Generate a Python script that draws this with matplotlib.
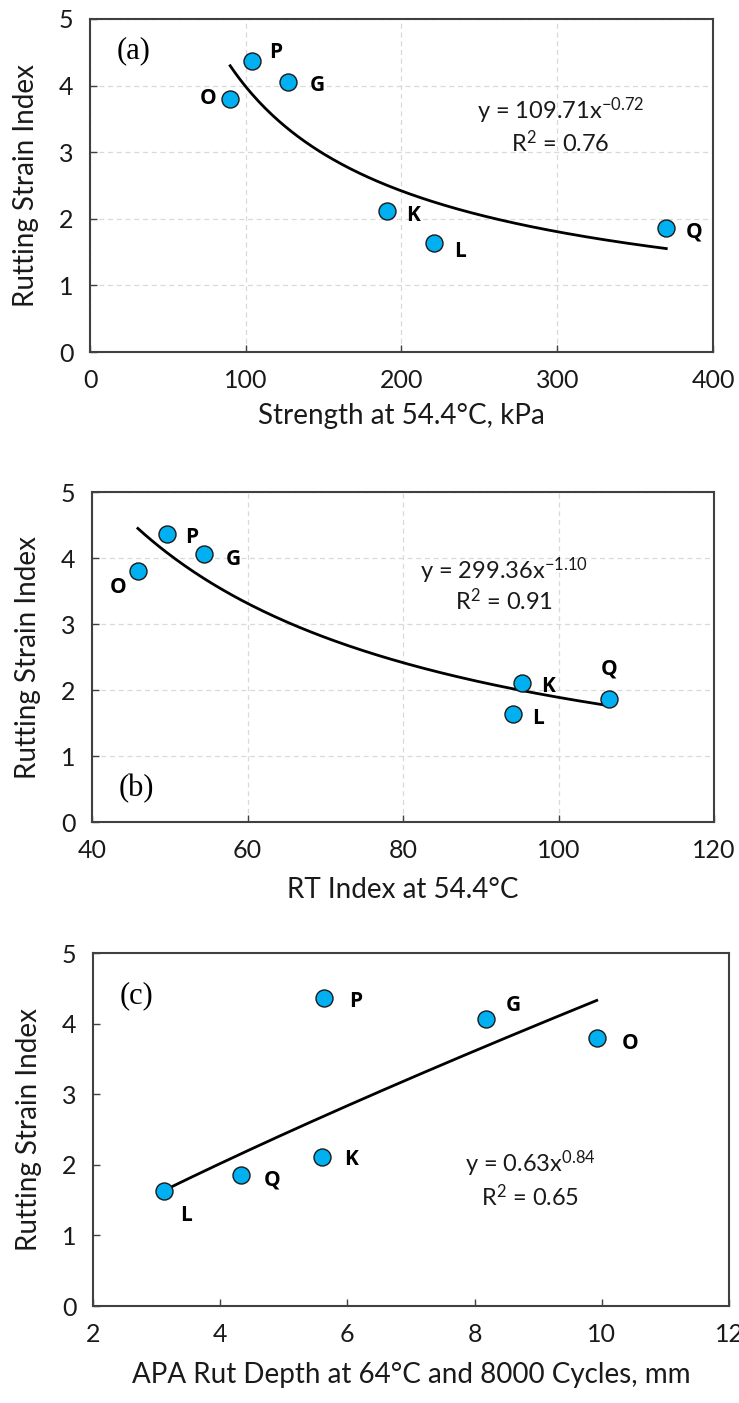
import matplotlib
matplotlib.use("Agg")
import matplotlib.pyplot as plt
import numpy as np

plt.rcParams['font.family'] = ['Lato', 'DejaVu Sans']
plt.rcParams['mathtext.fontset'] = 'custom'
plt.rcParams['mathtext.rm'] = 'Lato'
plt.rcParams['mathtext.it'] = 'Lato'
plt.rcParams['axes.unicode_minus'] = False

mixes = ["O", "P", "G", "K", "L", "Q"]
rsi = [3.80, 4.37, 4.06, 2.11, 1.63, 1.86]

strength = [90, 104, 127, 190.5, 221, 370]
rt_index = [45.9, 49.6, 54.4, 95.3, 94.1, 106.5]
apa_rut = [9.92, 5.64, 8.18, 5.60, 3.11, 4.32]

fit_a = (109.71, -0.72)
fit_b = (299.36, -1.10)
fit_c = (0.63, 0.84)

eq_a = ["y = 109.71x$^{\\mathdefault{-0.72}}$", "R$^{\\mathdefault{2}}$ = 0.76"]
eq_b = ["y = 299.36x$^{\\mathdefault{-1.10}}$", "R$^{\\mathdefault{2}}$ = 0.91"]
eq_c = ["y = 0.63x$^{\\mathdefault{0.84}}$", "R$^{\\mathdefault{2}}$ = 0.65"]

fig = plt.figure(figsize=(7.39, 14.03), dpi=100)

panels = [
    dict(rect=[0.1218, 0.7491, 0.8430, 0.2374], x=strength, fit=fit_a, eq=eq_a,
         xlim=(0, 400), xticks=[0, 100, 200, 300, 400], grid=True,
         xlabel="Strength at 54.4°C, kPa", xlpad=8, tag="(a)", tagpos=(0.042, 0.905),
         eqpos=(302, 3.62, 3.14),
         offs={"O": (-10, 0, 'right', 'center'), "P": (12, 6, 'left', 'center'),
               "G": (16, -3, 'left', 'center'), "K": (14, -3, 'left', 'center'),
               "L": (14, -6, 'left', 'center'), "Q": (14, -3, 'left', 'center')}),
    dict(rect=[0.1245, 0.4141, 0.8417, 0.2352], x=rt_index, fit=fit_b, eq=eq_b,
         xlim=(40, 120), xticks=[40, 60, 80, 100, 120], grid=True,
         xlabel="RT Index at 54.4°C", xlpad=11, tag="(b)", tagpos=(0.042, 0.10),
         eqpos=(93, 3.80, 3.36),
         offs={"O": (-8, -12, 'right', 'center'), "P": (13, -3, 'left', 'center'),
               "G": (16, -4, 'left', 'center'), "K": (14, -3, 'left', 'center'),
               "L": (14, -3, 'left', 'center'), "Q": (0, 22, 'center', 'center')}),
    dict(rect=[0.1258, 0.0691, 0.8607, 0.2516], x=apa_rut, fit=fit_c, eq=eq_c,
         xlim=(2, 12), xticks=[2, 4, 6, 8, 10, 12], grid=False,
         xlabel="APA Rut Depth at 64°C and 8000 Cycles, mm", xlpad=12, tag="(c)",
         tagpos=(0.042, 0.88),
         eqpos=(8.87, 2.01, 1.55),
         offs={"O": (18, -4, 'left', 'center'), "P": (18, -3, 'left', 'center'),
               "G": (14, 10, 'left', 'center'), "K": (16, -2, 'left', 'center'),
               "Q": (17, -4, 'left', 'center'), "L": (12, -18, 'left', 'center')}),
]

for p in panels:
    ax = fig.add_axes(p["rect"])
    x = np.array(p["x"], dtype=float)
    y = np.array(rsi, dtype=float)
    a, b = p["fit"]
    xs = np.linspace(x.min(), x.max(), 200)
    ax.plot(xs, a * xs ** b, color='black', lw=2.0, zorder=2)
    ax.scatter(x, y, s=150, color='#00B0F0', edgecolor='#1a1a1a', linewidth=1.0, zorder=3)
    for name, xi, yi in zip(mixes, x, y):
        dx, dy, ha, va = p["offs"][name]
        ax.annotate(name, (xi, yi), xytext=(dx, dy), textcoords='offset points',
                    ha=ha, va=va, fontsize=15, fontweight='bold', color='black',
                    family=['Open Sans', 'DejaVu Sans'])
    ax.set_xlim(*p["xlim"])
    ax.set_ylim(0, 5)
    ax.set_xticks(p["xticks"])
    ax.set_yticks([0, 1, 2, 3, 4, 5])
    ax.tick_params(direction='in', length=5, width=1, labelsize=18, pad=12, colors='#404040',
                   labelcolor='#1a1a1a')
    if p["grid"]:
        ax.grid(True, color='#d9d9d9', linestyle=(0, (4, 3)), linewidth=0.9)
        ax.set_axisbelow(True)
    for s in ax.spines.values():
        s.set_color('#404040')
        s.set_linewidth(1.5)
    ax.set_xlabel(p["xlabel"], fontsize=20, labelpad=p["xlpad"], color='#1a1a1a')
    ax.set_ylabel("Rutting Strain Index", fontsize=20, labelpad=14, color='#1a1a1a')
    ax.text(p["tagpos"][0], p["tagpos"][1], p["tag"], transform=ax.transAxes,
            fontsize=22, family=['Liberation Serif'], ha='left', va='center')
    ex, ey1, ey2 = p["eqpos"]
    ax.text(ex, ey1, p["eq"][0], fontsize=17, ha='center', va='center', color='#1a1a1a')
    ax.text(ex, ey2, p["eq"][1], fontsize=17, ha='center', va='center', color='#1a1a1a')

fig.savefig("out.png", dpi=100)
